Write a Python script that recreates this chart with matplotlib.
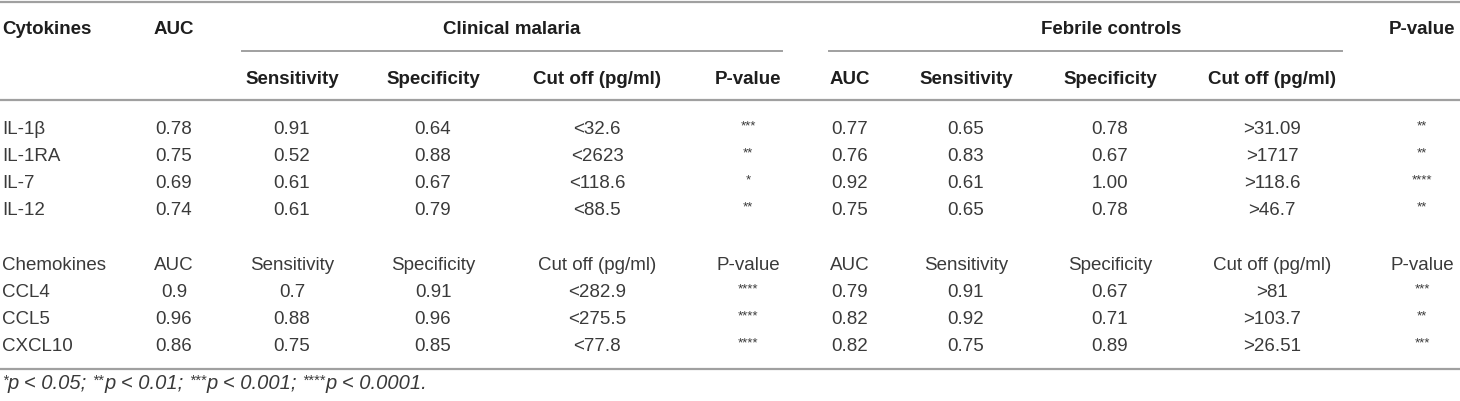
import matplotlib
matplotlib.use("Agg")
import matplotlib.pyplot as plt

plt.rcParams['font.family'] = ['Liberation Sans', 'DejaVu Sans']

# table data
cytokines = ["IL-1β", "IL-1RA", "IL-7", "IL-12"]
cyt_auc = ["0.78", "0.75", "0.69", "0.74"]
cyt_sens = ["0.91", "0.52", "0.61", "0.61"]
cyt_spec = ["0.64", "0.88", "0.67", "0.79"]
cyt_cut = ["<32.6", "<2623", "<118.6", "<88.5"]
cyt_p = ["***", "**", "*", "**"]
cyt_fc_auc = ["0.77", "0.76", "0.92", "0.75"]
cyt_fc_sens = ["0.65", "0.83", "0.61", "0.65"]
cyt_fc_spec = ["0.78", "0.67", "1.00", "0.78"]
cyt_fc_cut = [">31.09", ">1717", ">118.6", ">46.7"]
cyt_fc_p = ["**", "**", "****", "**"]

chemokines = ["CCL4", "CCL5", "CXCL10"]
chem_auc = ["0.9", "0.96", "0.86"]
chem_sens = ["0.7", "0.88", "0.75"]
chem_spec = ["0.91", "0.96", "0.85"]
chem_cut = ["<282.9", "<275.5", "<77.8"]
chem_p = ["****", "****", "****"]
chem_fc_auc = ["0.79", "0.82", "0.82"]
chem_fc_sens = ["0.91", "0.92", "0.75"]
chem_fc_spec = ["0.67", "0.71", "0.89"]
chem_fc_cut = [">81", ">103.7", ">26.51"]
chem_fc_p = ["***", "**", "***"]

sub_headers = ["AUC", "Sensitivity", "Specificity", "Cut off (pg/ml)", "P-value",
               "AUC", "Sensitivity", "Specificity", "Cut off (pg/ml)", "P-value"]
foot_stars = ["*", "**", "***", "****"]
foot_levels = ["p < 0.05; ", "p < 0.01; ", "p < 0.001; ", "p < 0.0001."]

# layout (pixels)
col_x = [174, 292, 433, 597, 748, 850, 966, 1110, 1272, 1422]
fs = 13.5
txt = "#3a3a3a"
hdr = "#1e1e1e"
line_c = "#a0a0a0"
cap = 6.6  # half cap height, to put baselines

fig = plt.figure(figsize=(14.6, 4.01), dpi=100)
ax = fig.add_axes([0, 0, 1, 1])
ax.set_xlim(0, 1460)
ax.set_ylim(401, 0)
ax.axis("off")


def put(x, y, s, ha="center", **kw):
    return ax.text(x, y + cap, s, ha=ha, va="baseline", fontsize=fs, **kw)


# rules
for y in [1.5, 100, 369]:
    ax.plot([0, 1460], [y, y], color=line_c, lw=1.6, solid_capstyle="butt")
ax.plot([242, 782], [51, 51], color=line_c, lw=1.4)
ax.plot([829, 1342], [51, 51], color=line_c, lw=1.4)

# header rows
put(2, 27, "Cytokines", ha="left", weight="bold", color=hdr)
put(col_x[0], 27, "AUC", weight="bold", color=hdr)
put(512, 27, "Clinical malaria", weight="bold", color=hdr)
put(1111, 27, "Febrile controls", weight="bold", color=hdr)
put(col_x[9], 27, "P-value", weight="bold", color=hdr)
for x, h in zip(col_x[1:9], sub_headers[1:9]):
    put(x, 77, h, weight="bold", color=hdr)


def row(y, name, vals, stars_idx=(4, 9)):
    put(2, y, name, ha="left", color=txt)
    for k, (x, v) in enumerate(zip(col_x, vals)):
        if k in stars_idx:
            ax.text(x, y + 2, v, ha="center", va="baseline",
                    fontsize=fs - 4, color=txt)
        else:
            put(x, y, v, color=txt)


row_h = 27.2
cyt_cols = [cyt_auc, cyt_sens, cyt_spec, cyt_cut, cyt_p,
            cyt_fc_auc, cyt_fc_sens, cyt_fc_spec, cyt_fc_cut, cyt_fc_p]
for i, name in enumerate(cytokines):
    row(127 + i * row_h, name, [c[i] for c in cyt_cols])

y0 = 127 + 5 * row_h
row(y0, "Chemokines", sub_headers, stars_idx=())
chem_cols = [chem_auc, chem_sens, chem_spec, chem_cut, chem_p,
             chem_fc_auc, chem_fc_sens, chem_fc_spec, chem_fc_cut, chem_fc_p]
for i, name in enumerate(chemokines):
    row(y0 + (i + 1) * row_h, name, [c[i] for c in chem_cols])

# footnote, stars as superscripts
fig.canvas.draw()
r = fig.canvas.get_renderer()
inv = ax.transData.inverted()
x = 2
yb = 389
for st, lv in zip(foot_stars, foot_levels):
    for s, size, dy in [(st, 10.5, -4), (lv + "|", 14.5, 0)]:
        # measure with a trailing bar so trailing spaces count, then drop it
        t = ax.text(x, yb + dy, s, ha="left", va="baseline", fontsize=size,
                    style="italic", color=txt)
        bb = t.get_window_extent(renderer=r)
        w = inv.transform((bb.x1, 0))[0] - inv.transform((bb.x0, 0))[0]
        if s.endswith("|"):
            t.set_text(s[:-1])
            bar = ax.text(0, 0, "|", fontsize=size, style="italic")
            bw = bar.get_window_extent(renderer=r)
            w -= inv.transform((bw.x1, 0))[0] - inv.transform((bw.x0, 0))[0]
            bar.remove()
        x += w

fig.savefig("out.png", dpi=100)
